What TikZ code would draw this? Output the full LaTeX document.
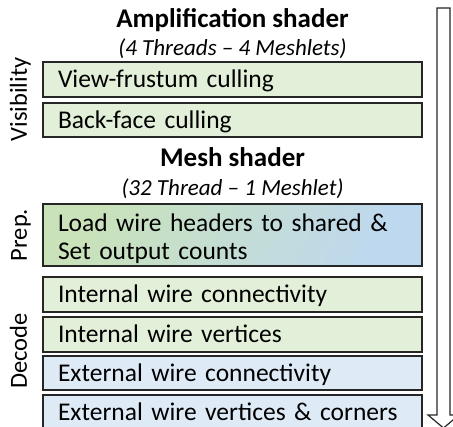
\documentclass[tikz,border=0pt]{standalone}
\usepackage{fontspec}
\setmainfont{Carlito}
\definecolor{boxgreen}{HTML}{E2F0D9}
\definecolor{boxblue}{HTML}{DEEBF7}
\definecolor{prepgreen}{HTML}{C9E2B9}
\definecolor{prepmid}{HTML}{DCEAE4}
\definecolor{prepblue}{HTML}{BED8EF}
\definecolor{edge}{HTML}{262626}
\begin{document}
\begin{tikzpicture}[x=1pt,y=-1pt,
  stagebase/.style={draw=edge, line width=1.4pt, anchor=north west, outer sep=0pt,
    text width=349pt, inner xsep=15pt, inner ysep=0pt, align=left,
    font=\fontsize{25.5}{28}\selectfont},
  stage/.style={stagebase, minimum height=35pt, text height=16.5pt, text depth=0pt},
  green/.style={stage, fill=boxgreen},
  blue/.style={stage, fill=boxblue},
  title/.style={anchor=base, font=\fontsize{27}{30}\selectfont\bfseries},
  subtitle/.style={anchor=base, font=\fontsize{23}{26}\selectfont\itshape},
  phase/.style={rotate=90, anchor=base, font=\fontsize{24.5}{28}\selectfont}
]
\useasboundingbox (0,0) rectangle (453,427);
% titles
\node[title] (amp) at (232.5,28) {Amplification shader};
\node[subtitle] (ampsub) at (232.5,56) {(4 Threads – 4 Meshlets)};
\node[title] (mesh) at (232.5,167) {Mesh shader};
\node[subtitle] (meshsub) at (232.5,196) {(32 Thread – 1 Meshlet)};
% boxes
\node[green, minimum height=35pt] (vf) at (43,62) {View-frustum culling};
\node[green, minimum height=34pt] (bf) at (43,103) {Back-face culling};
\node[stagebase, minimum height=62pt, text height=20pt, text depth=27pt,
  left color=prepgreen, middle color=prepmid, right color=prepblue, shading angle=60] (prep) at (43,204)
  {Load wire headers to shared \&\\Set output counts};
\node[green] (iwc) at (43,277) {Internal wire connectivity};
\node[green] (iwv) at (43,317) {Internal wire vertices};
\node[blue, minimum height=34pt] (ewc) at (43,356) {External wire connectivity};
\node[blue] (ewv) at (43,395) {External wire vertices \& corners};
% phase labels
\node[phase] (vis) at (27,99.5) {Visibility};
\node[phase] (prp) at (27,235) {Prep.};
\node[phase] (dec) at (27,351) {Decode};
% flow arrow
\draw[draw=edge, line width=1.2pt, fill=white, line join=miter]
  (437,8) -- (450,8) -- (450,415) -- (459,415) -- (443.5,428) -- (428,415) -- (437,415) -- cycle;
\end{tikzpicture}
\end{document}
